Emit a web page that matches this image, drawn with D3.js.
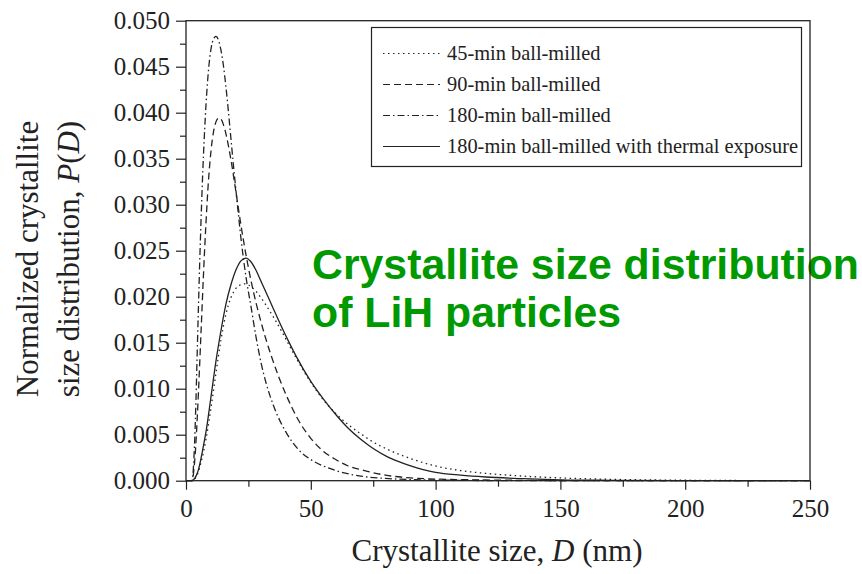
<!DOCTYPE html>
<html>
<head>
<meta charset="utf-8">
<script src="https://cdn.jsdelivr.net/npm/d3@7"></script>
<style>
  html, body { margin: 0; padding: 0; background: #fff; }
  svg { display: block; }
  .tick text { font-family: "Liberation Serif", "Times New Roman", serif; }
</style>
</head>
<body>
<svg id="chart" width="862" height="574"></svg>
<script>
// Crystallite size distributions, P(D) vs D (nm), as [D, P] points
const milled45 = [[0,0],[3,0],[4,0.0004],[5,0.001],[6,0.002],[7,0.0031],[8,0.0045],[10,0.0079],[12,0.0117],[14,0.0153],[16,0.0181],[18,0.0199],[20,0.0209],[22,0.0213],[24,0.0214],[26,0.0211],[28,0.0206],[30,0.0199],[32,0.0191],[35,0.0178],[38,0.0164],[41,0.0149],[44,0.0134],[47,0.012],[50,0.0107],[55,0.0088],[60,0.0073],[65,0.0061],[70,0.0051],[75,0.0042],[80,0.0035],[90,0.0024],[100,0.0016],[110,0.0011],[120,0.0008],[135,0.0005],[150,0.0003],[170,0.00015],[200,0.00005],[250,0]];
const milled90 = [[0,0],[2.5,0],[3,0.0008],[3.5,0.0022],[4,0.0042],[4.5,0.0068],[5,0.0097],[6,0.016],[7,0.0224],[8,0.028],[9,0.0326],[10,0.0358],[11,0.0379],[12,0.039],[13,0.0394],[14,0.0393],[15,0.0387],[16,0.0377],[17,0.0364],[18,0.0349],[20,0.0314],[22,0.0278],[24,0.0246],[26,0.0218],[28,0.0194],[30,0.0173],[32,0.0154],[34,0.0137],[37,0.0114],[40,0.0094],[45,0.0066],[50,0.0046],[55,0.0032],[60,0.0023],[65,0.0016],[70,0.0012],[80,0.0006],[90,0.0003],[100,0.00018],[120,0.00008],[150,0.00002],[200,0],[250,0]];
const milled180 = [[0,0],[2.5,0],[3,0.0016],[3.5,0.0045],[4,0.0088],[4.5,0.014],[5,0.019],[5.5,0.0238],[6,0.0281],[6.5,0.032],[7,0.0354],[7.5,0.0383],[8,0.0408],[9,0.0446],[10,0.0469],[11,0.048],[12,0.0483],[13,0.0479],[14,0.0468],[15,0.0451],[16,0.0428],[17,0.0401],[18,0.0372],[19,0.0343],[20,0.0316],[22,0.0264],[24,0.0222],[26,0.019],[28,0.0157],[30,0.0129],[32,0.0107],[35,0.0082],[40,0.0053],[45,0.0034],[50,0.0023],[55,0.0016],[60,0.0011],[70,0.0005],[80,0.00025],[90,0.00012],[110,0.00004],[140,0],[250,0]];
const thermal = [[0,0],[2,0],[3,0.0001],[4,0.0005],[5,0.0012],[6,0.0024],[7,0.0038],[8,0.0053],[10,0.0091],[12,0.013],[14,0.0163],[16,0.0192],[18,0.0213],[20,0.0229],[22,0.0239],[24,0.0242],[26,0.0238],[28,0.0229],[30,0.0217],[32,0.0205],[35,0.0187],[38,0.0169],[41,0.0152],[44,0.0136],[50,0.0108],[55,0.0089],[60,0.0072],[65,0.0057],[70,0.0045],[75,0.0035],[80,0.0027],[85,0.0021],[90,0.0016],[95,0.0012],[100,0.0009],[110,0.0006],[120,0.0004],[135,0.00022],[150,0.0001],[170,0.00004],[200,0],[250,0]];

const seriesNames = ["45-min ball-milled", "90-min ball-milled", "180-min ball-milled", "180-min ball-milled with thermal exposure"];
const seriesData = [milled45, milled90, milled180, thermal];
const seriesDash = ["1.5,3.5", "7,4", "7,3,1.5,3", null];

const xMajor = [0, 50, 100, 150, 200, 250];
const xMinor = [25, 75, 125, 175, 225];
const yMajor = [0, 0.005, 0.01, 0.015, 0.02, 0.025, 0.03, 0.035, 0.04, 0.045, 0.05];
const yMinor = [0.0025, 0.0075, 0.0125, 0.0175, 0.0225, 0.0275, 0.0325, 0.0375, 0.0425, 0.0475];

const xTitle = "Crystallite size, ";
const yTitle1 = "Normalized crystallite";
const noteLines = ["Crystallite size distribution", "of LiH particles"];

const svg = d3.select("#chart");
const plotL = 186, plotR = 810, plotT = 20.7, plotB = 480.7;
const x = d3.scaleLinear().domain([0, 250]).range([plotL, plotR]);
const y = d3.scaleLinear().domain([0, 0.05]).range([plotB, plotT]);
const serif = '"Liberation Serif", "Times New Roman", serif';
const ink = "#222";

// curves
const line = d3.line().x(d => x(d[0])).y(d => y(d[1])).curve(d3.curveMonotoneX);
seriesData.forEach((data, i) => {
  svg.append("path")
    .datum(data)
    .attr("d", line)
    .attr("fill", "none")
    .attr("stroke", ink)
    .attr("stroke-width", 1.3)
    .attr("stroke-dasharray", seriesDash[i]);
});

// overlay annotation
const note = svg.append("text")
  .attr("font-family", '"Liberation Sans", Arial, sans-serif')
  .attr("font-weight", "bold")
  .attr("font-size", 42.8)
  .attr("fill", "#009900");
noteLines.forEach((t, i) => {
  note.append("tspan").attr("x", 312).attr("y", 279 + i * 48).text(t);
});

// axes
const fmt = d3.format(".3f");
svg.append("g").attr("transform", `translate(${plotL},0)`)
  .call(d3.axisLeft(y).tickValues(yMajor).tickSize(10).tickPadding(6).tickFormat(fmt));
svg.append("g").attr("transform", `translate(${plotL},0)`)
  .call(d3.axisLeft(y).tickValues(yMinor).tickSize(6).tickFormat(""));
svg.append("g").attr("transform", `translate(0,${plotB})`)
  .call(d3.axisBottom(x).tickValues(xMajor).tickSize(9).tickPadding(10).tickFormat(d3.format("d")));
svg.append("g").attr("transform", `translate(0,${plotB})`)
  .call(d3.axisBottom(x).tickValues(xMinor).tickSize(6).tickFormat(""));
svg.selectAll(".domain").remove();
svg.selectAll(".tick line").attr("stroke", ink).attr("stroke-width", 1.2);
svg.selectAll(".tick text").attr("font-size", 25).attr("fill", ink);

// frame
svg.append("rect")
  .attr("x", plotL).attr("y", plotT)
  .attr("width", plotR - plotL).attr("height", plotB - plotT)
  .attr("fill", "none").attr("stroke", ink).attr("stroke-width", 1.3);

// legend
const lg = svg.append("g");
lg.append("rect").attr("x", 371.5).attr("y", 27.5).attr("width", 430).attr("height", 139)
  .attr("fill", "none").attr("stroke", ink).attr("stroke-width", 1.2);
seriesNames.forEach((name, i) => {
  const cy = 53.5 + i * 31;
  lg.append("line").attr("x1", 383).attr("x2", 440).attr("y1", cy).attr("y2", cy)
    .attr("stroke", ink).attr("stroke-width", 1.2).attr("stroke-dasharray", seriesDash[i]);
  lg.append("text").attr("x", 447).attr("y", cy).attr("dy", "0.33em")
    .attr("font-family", serif).attr("font-size", 20.4).attr("fill", ink).text(name);
});

// axis titles
const xt = svg.append("text").attr("x", 497).attr("y", 561).attr("text-anchor", "middle")
  .attr("font-family", serif).attr("font-size", 31).attr("fill", ink);
xt.append("tspan").text(xTitle);
xt.append("tspan").attr("font-style", "italic").text("D");
xt.append("tspan").text(" (nm)");

const yt = svg.append("text").attr("transform", "translate(38,259) rotate(-90)")
  .attr("text-anchor", "middle").attr("font-family", serif).attr("font-size", 31).attr("fill", ink);
yt.append("tspan").attr("x", 0).attr("y", 0).text(yTitle1);
const yt2 = svg.append("text").attr("transform", "translate(79,259) rotate(-90)")
  .attr("text-anchor", "middle").attr("font-family", serif).attr("font-size", 31).attr("fill", ink);
yt2.append("tspan").text("size distribution, ");
yt2.append("tspan").attr("font-style", "italic").text("P");
yt2.append("tspan").text("(");
yt2.append("tspan").attr("font-style", "italic").text("D");
yt2.append("tspan").text(")");
</script>
</body>
</html>
